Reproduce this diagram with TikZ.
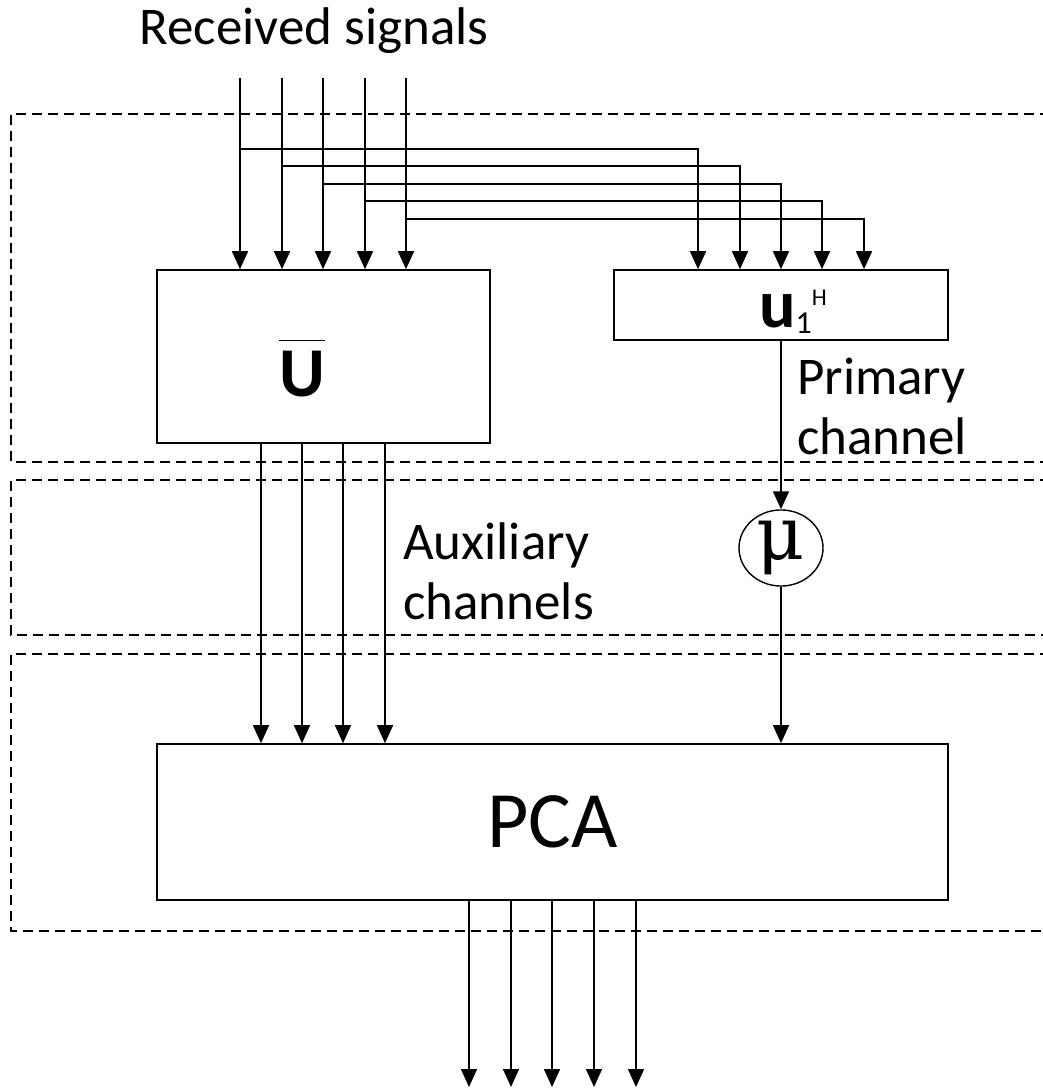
\documentclass[tikz,border=0pt]{standalone}
\usepackage{fontspec}
\setmainfont{Carlito}
\newfontfamily\greekfont{DejaVu Serif}
\usetikzlibrary{arrows.meta,shapes.geometric}
\begin{document}
\begin{tikzpicture}[x=1pt,y=-1pt,
  blk/.style={draw, line width=1.6pt, inner sep=0pt},
  arr/.style={line width=1.6pt, -{Triangle[length=18pt,width=16pt]}},
  dbox/.style={line width=1.5pt, dash pattern=on 10pt off 6pt},
  lbl/.style={font=\fontsize{53}{60}\selectfont, align=left, inner sep=0pt}]
\useasboundingbox (0,0) rectangle (1042,1089);
% dashed regions (open to the right)
\draw[dbox] (1050,114) -- (11,114) -- (11,462) -- (1050,462);
\draw[dbox] (1050,480) -- (11,480) -- (11,635) -- (1050,635);
\draw[dbox] (1050,654) -- (11,654) -- (11,931) -- (1050,931);
% blocks
\node[blk, minimum width=333pt, minimum height=173pt] (U) at (323.5,356.5) {};
\node[inner sep=0pt, anchor=base, font=\fontsize{70}{70}\selectfont\bfseries] (Ut) at (302,396) {$\overline{\vrule height 54pt depth 0pt width 0pt\mbox{\bfseries U}}$};
\node[blk, minimum width=334pt, minimum height=70pt] (u1) at (781,305) {};
\node[inner sep=0pt, anchor=base west] (u1t) at (759,327) {{\fontsize{68}{68}\selectfont\bfseries u}\raisebox{-6pt}{\fontsize{32}{32}\selectfont 1}\raisebox{22pt}{\fontsize{24}{24}\selectfont H}};
\node[ellipse, draw, line width=1.4pt, minimum width=84pt, minimum height=70pt, inner sep=0pt, font=\fontsize{74}{74}\selectfont\greekfont] (mu) at (781,548) {μ};
\node[blk, minimum width=791pt, minimum height=156pt, font=\fontsize{80}{80}\selectfont] (PCA) at (552.5,822) {PCA};
% labels
\node[lbl, anchor=base] (rs) at (314,45) {Received signals};
\node[lbl, anchor=base west] (pc) at (797,454) {Primary\\channel};
\node[lbl, anchor=base west] (ac) at (403,619) {Auxiliary\\channels};
% inputs and branches to u1^H
\foreach \k/\x/\yb/\xr in {1/240/149/698, 2/282/166/740, 3/323/184/781, 4/365/201/822, 5/406/219/864}{
  \coordinate (in\k) at (\x,78);
  \coordinate (br\k) at (\x,\yb);
  \coordinate (r\k) at (\xr,0);
  \draw[arr] (in\k) -- (in\k |- U.north);
  \draw[arr] (br\k) -| (r\k |- u1.north);
}
% auxiliary channels
\foreach \k/\x in {1/261, 2/302, 3/343, 4/385}{
  \coordinate (a\k) at (\x,0);
  \draw[arr] (a\k |- U.south) -- (a\k |- PCA.north);
}
% primary channel
\draw[arr] (u1.south) -- (mu.north);
\draw[arr] (mu.south) -- (mu.south |- PCA.north);
% outputs
\foreach \k/\x in {1/469, 2/511, 3/552, 4/594, 5/636}{
  \coordinate (o\k) at (\x,1087);
  \draw[arr] (o\k |- PCA.south) -- (o\k);
}
\end{tikzpicture}
\end{document}
